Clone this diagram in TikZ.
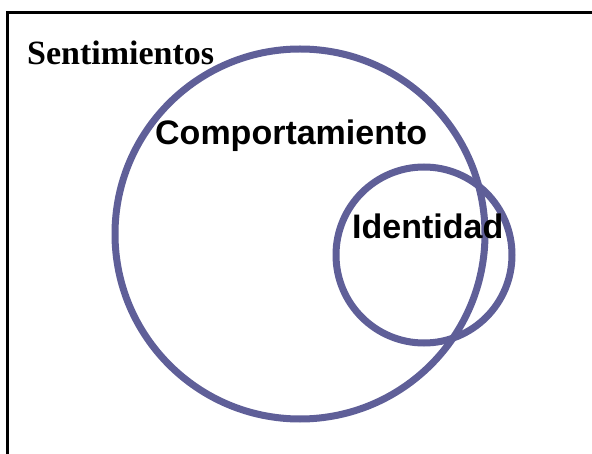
\documentclass[tikz,border=0pt]{standalone}
\usepackage{fontspec}
\setmainfont{Liberation Serif}
\newfontfamily\arialfont{Liberation Sans}
\definecolor{ringcol}{RGB}{95,95,152}
\begin{document}
\begin{tikzpicture}[x=1pt,y=-1pt,
  ring/.style={draw=ringcol,line width=7pt},
  lbl/.style={anchor=base west,inner sep=0pt,font=\fontsize{34}{40}\selectfont\bfseries}]
\useasboundingbox (0,0) rectangle (592,454);
\clip (0,0) rectangle (592,454);
\fill[white] (0,0) rectangle (592,454);
\draw[line width=3pt] (7,12.5) rectangle (620,480);
\draw[ring] (300,234) circle[radius=185];
\draw[ring] (424,255) circle[radius=88];
\node[lbl] (sent) at (27,65) {Sentimientos};
\node[lbl,font=\fontsize{34}{40}\selectfont\arialfont\bfseries] (comp) at (155,145) {Comportamiento};
\node[lbl,font=\fontsize{34}{40}\selectfont\arialfont\bfseries] (iden) at (352,239) {Identidad};
\end{tikzpicture}
\end{document}
